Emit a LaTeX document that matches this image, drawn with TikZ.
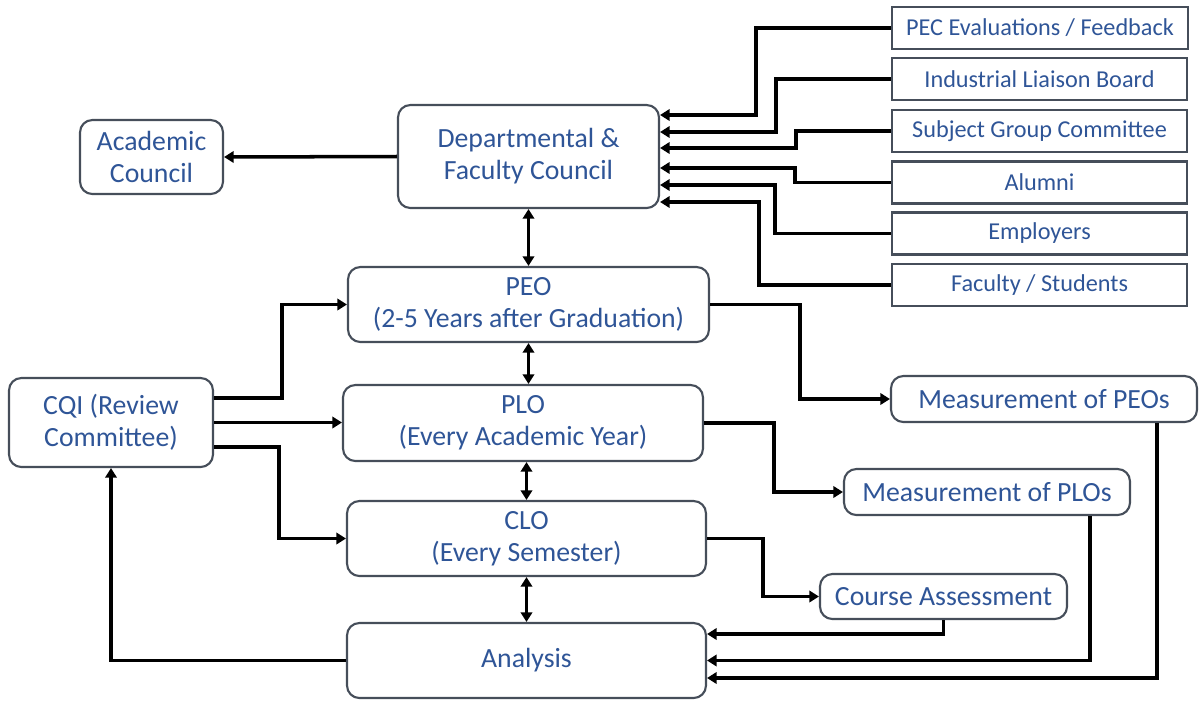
\documentclass[tikz,border=0pt]{standalone}
\usepackage{fontspec}
\setmainfont{Carlito}
\usepackage{tikz}
\usetikzlibrary{positioning, shapes, arrows.meta, calc}
\definecolor{txtblue}{RGB}{47,85,151}
\definecolor{bordgray}{RGB}{70,78,90}

\begin{document}
\begin{tikzpicture}[
    x = 0.02cm, y = -0.02cm,
    box/.style = {draw=bordgray, line width=1.2pt, rounded corners=7pt, text=txtblue,
                  align=center, inner sep=0pt, font=\fontsize{15.8}{18.2}\selectfont},
    sqbox/.style = {draw=bordgray, line width=1.2pt, text=txtblue, inner sep=0pt,
                  minimum width=5.9cm, minimum height=0.84cm, font=\fontsize{13.8}{16}\selectfont},
    arr/.style = {-{Triangle[length=5.5pt,width=6.5pt]}, line width=2pt},
    dbl/.style = {{Triangle[length=5.5pt,width=6.5pt]}-{Triangle[length=5.5pt,width=6.5pt]}, line width=2pt}
]
\useasboundingbox (0,0) rectangle (1199,700);

% Councils
\node[box, minimum width=2.86cm, minimum height=1.48cm] (acad) at (151.5,157) {Academic\\Council};
\node[box, minimum width=5.22cm, minimum height=2.06cm] (dept) at (528.5,156.5) {Departmental \&\\Faculty Council};

% Outcome levels
\node[box, minimum width=7.22cm, minimum height=1.5cm] (peo) at (528.5,304.5) {PEO\\(2-5 Years after Graduation)};
\node[box, minimum width=7.2cm, minimum height=1.52cm] (plo) at (523,423) {PLO\\(Every Academic Year)};
\node[box, minimum width=7.18cm, minimum height=1.5cm] (clo) at (526.5,538.5) {CLO\\(Every Semester)};
\node[box, minimum width=7.18cm, minimum height=1.5cm] (ana) at (526.5,660.5) {Analysis};
\node[box, minimum width=4.08cm, minimum height=1.78cm] (cqi) at (111,422.5) {CQI (Review\\Committee)};

% Feedback sources
\node[sqbox, minimum width=5.92cm] (pec) at (1040,28) {PEC Evaluations / Feedback};
\node[sqbox] (ilb) at (1039.5,79) {Industrial Liaison Board};
\node[sqbox] (sgc) at (1039.5,131) {Subject Group Committee};
\node[sqbox] (alum) at (1039.5,182.5) {Alumni};
\node[sqbox] (empl) at (1039.5,233.5) {Employers};
\node[sqbox] (facst) at (1039.5,285) {Faculty / Students};

% Measurements
\node[box, minimum width=6.12cm, minimum height=0.92cm] (mpeo) at (1044,399) {Measurement of PEOs};
\node[box, minimum width=5.72cm, minimum height=0.92cm] (mplo) at (987,492) {Measurement of PLOs};
\node[box, minimum width=4.94cm, minimum height=0.9cm] (cass) at (943.5,596.5) {Course Assessment};

\draw[arr] (dept.west) -- (acad.east);
\draw[dbl] (dept.south) -- (peo.north);
\draw[dbl] (peo.south) -- (peo.south |- plo.north);
\draw[dbl] (clo.north |- plo.south) -- (clo.north);
\draw[dbl] (clo.south) -- (ana.north);

\draw[arr] (pec.west) -- ++(-135,0) |- ([shift={(0,-41.5)}]dept.east);
\draw[arr] (ilb.west) -- ++(-115,0) |- ([shift={(0,-24.5)}]dept.east);
\draw[arr] (sgc.west) -- ++(-95,0) |- ([shift={(0,-8.5)}]dept.east);
\draw[arr] (alum.west) -- ++(-96,0) |- ([shift={(0,11.5)}]dept.east);
\draw[arr] (empl.west) -- ++(-116,0) |- ([shift={(0,28.5)}]dept.east);
\draw[arr] (facst.west) -- ++(-132,0) |- ([shift={(0,45.5)}]dept.east);

\draw[arr] ([shift={(0,-24.5)}]cqi.east) -- ++(68,0) |- (peo.west);
\draw[arr] (cqi.east) -- (cqi.east -| plo.west);
\draw[arr] ([shift={(0,24.5)}]cqi.east) -- ++(65,0) |- (clo.west);
\draw[arr] (ana.west) -| (cqi.south);

\draw[arr] (peo.east) -- ++(90,0) |- (mpeo.west);
\draw[arr] (plo.east) -- ++(70,0) |- (mplo.west);
\draw[arr] (clo.east) -- ++(56,0) |- (cass.west);

\draw[arr] (cass.south) |- ([shift={(0,-26.5)}]ana.east);
\draw[arr] ([shift={(103,0)}]mplo.south) |- (ana.east);
\draw[arr] ([shift={(113,0)}]mpeo.south) |- ([shift={(0,17.5)}]ana.east);

\end{tikzpicture}
\end{document}
